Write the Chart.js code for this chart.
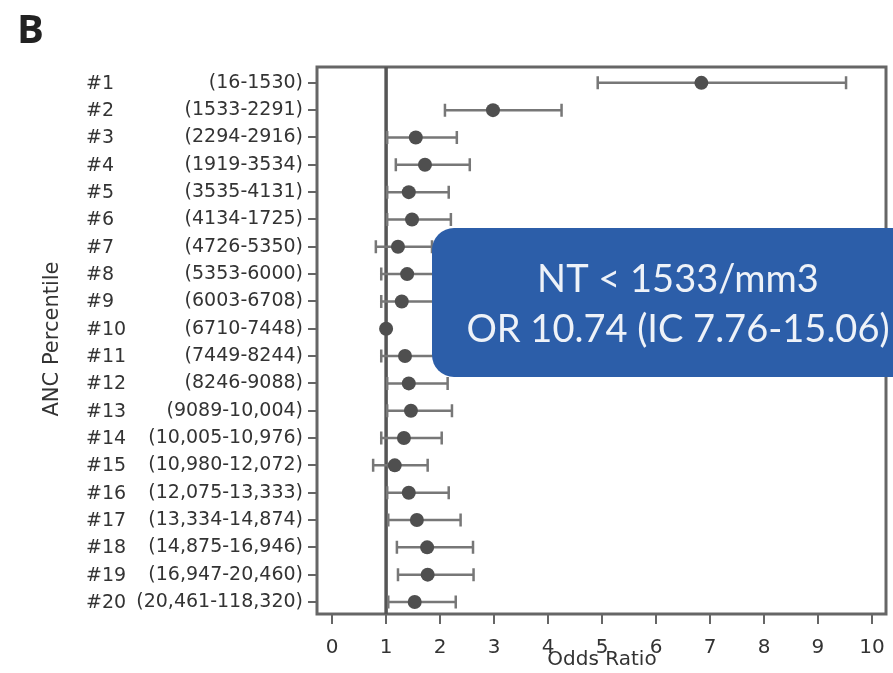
<!DOCTYPE html>
<html lang="en">
<head>
  <meta charset="UTF-8">
  <title>ANC Percentile – Odds Ratio</title>
  <script src="https://cdn.jsdelivr.net/npm/chart.js"></script>
  <style>
    html, body { margin: 0; padding: 0; background: #fff; }
    canvas { display: block; }
  </style>
</head>
<body>
  <canvas id="forest" width="893" height="673"></canvas>

  <script>
    // Percentile groups and their ANC ranges
    const percentiles = ['#1', '#2', '#3', '#4', '#5', '#6', '#7', '#8', '#9', '#10',
      '#11', '#12', '#13', '#14', '#15', '#16', '#17', '#18', '#19', '#20'];
    const ancRanges = ['(16-1530)', '(1533-2291)', '(2294-2916)', '(1919-3534)', '(3535-4131)',
      '(4134-1725)', '(4726-5350)', '(5353-6000)', '(6003-6708)', '(6710-7448)',
      '(7449-8244)', '(8246-9088)', '(9089-10,004)', '(10,005-10,976)', '(10,980-12,072)',
      '(12,075-13,333)', '(13,334-14,874)', '(14,875-16,946)', '(16,947-20,460)', '(20,461-118,320)'];

    // Odds ratio with 95% interval (#10 is the reference group)
    const oddsRatio = [6.84, 2.98, 1.55, 1.72, 1.42, 1.48, 1.22, 1.39, 1.29, 1.00,
      1.35, 1.42, 1.46, 1.33, 1.16, 1.42, 1.57, 1.76, 1.77, 1.53];
    const ciLower = [4.92, 2.09, 1.02, 1.18, 1.02, 1.02, 0.81, 0.91, 0.91, null,
      0.91, 1.02, 1.02, 0.91, 0.76, 1.02, 1.04, 1.20, 1.22, 1.04];
    const ciUpper = [9.52, 4.25, 2.31, 2.55, 2.16, 2.20, 1.85, 2.05, 1.95, null,
      2.00, 2.14, 2.22, 2.03, 1.77, 2.16, 2.38, 2.61, 2.62, 2.29];

    const xTicks = [0, 1, 2, 3, 4, 5, 6, 7, 8, 9, 10];
    const refLine = 1;

    const callout = ['NT < 1533/mm3', 'OR 10.74 (IC 7.76-15.06)'];

    const axisFont = 'DejaVu Sans';
    const textGray = '#333';

    // frame, reference line and whiskers under the points
    const forestPlugin = {
      id: 'forest',
      beforeDatasetsDraw(chart) {
        const { ctx, chartArea: a, scales: { x, y } } = chart;
        ctx.save();

        // box around the plot
        ctx.strokeStyle = '#666';
        ctx.lineWidth = 3;
        ctx.strokeRect(a.left, a.top, a.right - a.left, a.bottom - a.top);

        // OR = 1
        const rx = x.getPixelForValue(refLine);
        ctx.strokeStyle = '#555';
        ctx.lineWidth = 3.5;
        ctx.beginPath();
        ctx.moveTo(rx, a.top);
        ctx.lineTo(rx, a.bottom);
        ctx.stroke();

        // confidence intervals
        ctx.strokeStyle = '#777';
        ctx.lineWidth = 2.5;
        ciLower.forEach((lo, i) => {
          if (lo == null) return;
          const py = y.getPixelForValue(i + 1);
          const x1 = x.getPixelForValue(lo);
          const x2 = x.getPixelForValue(ciUpper[i]);
          ctx.beginPath();
          ctx.moveTo(x1, py);
          ctx.lineTo(x2, py);
          ctx.moveTo(x1, py - 6.5);
          ctx.lineTo(x1, py + 6.5);
          ctx.moveTo(x2, py - 6.5);
          ctx.lineTo(x2, py + 6.5);
          ctx.stroke();
        });
        ctx.restore();
      },
      afterDraw(chart) {
        const { ctx, scales: { y } } = chart;
        ctx.save();

        // group numbers to the left of the ranges
        ctx.fillStyle = textGray;
        ctx.font = '19px "' + axisFont + '"';
        ctx.textAlign = 'left';
        ctx.textBaseline = 'middle';
        percentiles.forEach((p, i) => {
          ctx.fillText(p, 86, y.getPixelForValue(i + 1) + 1);
        });

        // axis titles
        ctx.font = '20px "' + axisFont + '"';
        ctx.textAlign = 'center';
        ctx.fillText('Odds Ratio', 602, 660);
        ctx.save();
        ctx.translate(53, 339);
        ctx.rotate(-Math.PI / 2);
        ctx.font = '21px "' + axisFont + '"';
        ctx.fillText('ANC Percentile', 0, 0);
        ctx.restore();

        // panel letter
        ctx.fillStyle = '#222';
        ctx.font = 'bold 40px "Open Sans"';
        ctx.textAlign = 'left';
        ctx.textBaseline = 'alphabetic';
        ctx.fillText('B', 17, 43);

        // callout box
        ctx.fillStyle = '#2c5ea9';
        ctx.beginPath();
        ctx.roundRect(432, 228, 490, 149, 22);
        ctx.fill();
        ctx.fillStyle = '#eef2f8';
        ctx.font = '38px Lato';
        ctx.textAlign = 'center';
        ctx.fillText(callout[0], 678, 292);
        ctx.fillText(callout[1], 678, 342);

        ctx.restore();
      }
    };

    new Chart(document.getElementById('forest'), {
      type: 'scatter',
      data: {
        datasets: [{
          label: 'Odds Ratio',
          data: oddsRatio.map((v, i) => ({ x: v, y: i + 1 })),
          backgroundColor: '#4f4f4f',
          borderWidth: 0,
          pointRadius: 7,
          pointHoverRadius: 7
        }]
      },
      options: {
        responsive: false,
        animation: false,
        devicePixelRatio: 1,
        layout: { padding: { top: 67, right: 6, left: 0, bottom: 0 } },
        plugins: {
          legend: { display: false },
          tooltip: { enabled: false }
        },
        scales: {
          x: {
            type: 'linear',
            min: -0.28,
            max: 10.26,
            afterBuildTicks: scale => { scale.ticks = xTicks.map(v => ({ value: v })); },
            afterFit: scale => {
              scale.height = 59;
              // keep the "10" label from shrinking the plot
              scale.paddingLeft = 0;
              scale.paddingRight = 0;
            },
            border: { display: false },
            grid: { drawOnChartArea: false, tickLength: 10, color: '#666', lineWidth: 2 },
            ticks: {
              padding: 12,
              color: textGray,
              font: { family: axisFont, size: 20 }
            }
          },
          y: {
            type: 'linear',
            reverse: true,
            min: 0.42,
            max: 20.44,
            afterBuildTicks: scale => { scale.ticks = ancRanges.map((r, i) => ({ value: i + 1 })); },
            afterFit: scale => { scale.width = 317; },
            border: { display: false },
            grid: { drawOnChartArea: false, tickLength: 9, color: '#666', lineWidth: 2 },
            ticks: {
              padding: 5,
              color: textGray,
              font: { family: axisFont, size: 19 },
              callback: value => ancRanges[value - 1]
            }
          }
        }
      },
      plugins: [forestPlugin]
    });
  </script>
</body>
</html>
